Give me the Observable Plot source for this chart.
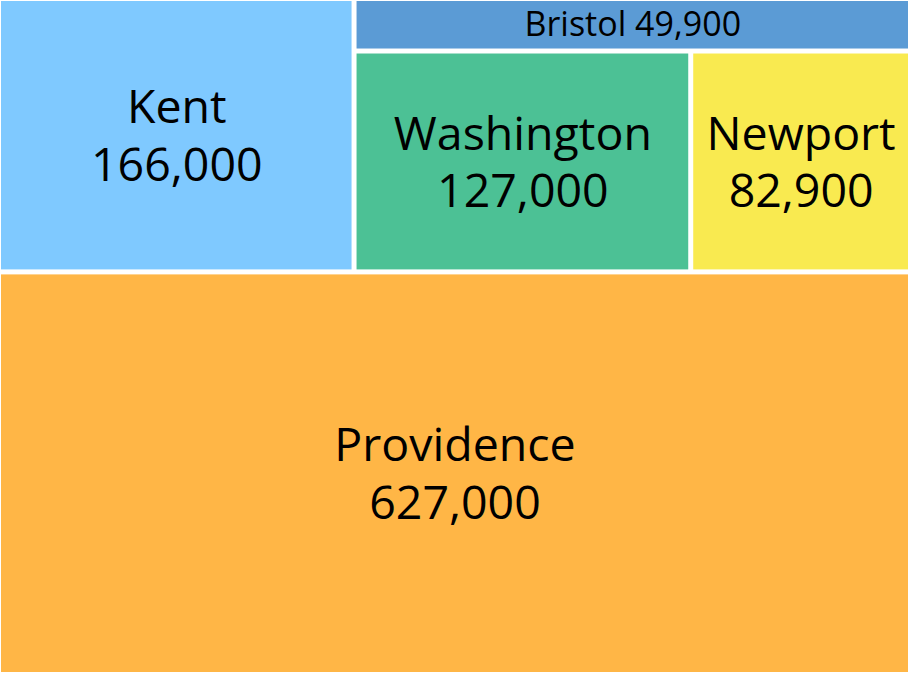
<!DOCTYPE html>
<html><head><meta charset="utf-8">
<script src="https://cdn.jsdelivr.net/npm/d3@7"></script>
<script src="https://cdn.jsdelivr.net/npm/@observablehq/plot@0.6"></script>
<style>body{margin:0;background:#fff}</style>
</head><body><div id="chart"></div>
<script>
// Data
const counties = ["Kent", "Bristol", "Washington", "Newport", "Providence"];
const populations = [166000, 49900, 127000, 82900, 627000];
const countyColors = ["#7FC9FF", "#5B9BD5", "#4CC195", "#F9EA50", "#FFB646"];
// Treemap nesting (group of each county)
const countyGroups = ["top", "right", "lower", "lower", "root"];
const groupIds = ["top", "right", "lower"];
const groupParents = ["root", "top", "right"];

const W = 909, H = 673;

// Build hierarchy rows in layout order
const rows = [{id: "root"}];
rows.push({id: "top", parent: "root"});
rows.push({id: "Providence", parent: "root", value: populations[4], color: countyColors[4]});
rows.push({id: "Kent", parent: "top", value: populations[0], color: countyColors[0]});
rows.push({id: "right", parent: "top"});
rows.push({id: "Bristol", parent: "right", value: populations[1], color: countyColors[1]});
rows.push({id: "lower", parent: "right"});
rows.push({id: "Washington", parent: "lower", value: populations[2], color: countyColors[2]});
rows.push({id: "Newport", parent: "lower", value: populations[3], color: countyColors[3]});

const root = d3.stratify().id(d => d.id).parentId(d => d.parent)(rows)
  .sum(d => d.value || 0);

d3.treemap()
  .size([W, H])
  .tile((node, x0, y0, x1, y1) => (node.depth % 2 === 0 ? d3.treemapSlice : d3.treemapDice)(node, x0, y0, x1, y1))
  .paddingInner(5)
  .paddingOuter(d => d.depth === 0 ? 1 : 0)(root);

const leaves = root.leaves().map(d => ({
  name: d.data.id, value: d.value, color: d.data.color,
  x0: d.x0, x1: d.x1, y0: d.y0, y1: d.y1
}));
const fmt = d3.format(",");

const chart = Plot.plot({
  width: W, height: H, margin: 0,
  style: {background: "white"},
  x: {domain: [0, W], range: [0, W], axis: null},
  y: {domain: [0, H], range: [0, H], axis: null},
  marks: [
    Plot.rect(leaves, {x1: "x0", x2: "x1", y1: "y0", y2: "y1", fill: "color"}),
    Plot.text(leaves.filter(d => d.name !== "Bristol"), {
      x: d => (d.x0 + d.x1) / 2, y: d => (d.y0 + d.y1) / 2,
      text: d => d.name + "\n" + fmt(d.value),
      fontSize: 46.5, fontFamily: "Open Sans", lineHeight: 1.23, fill: "black", dy: -2
    }),
    Plot.text(leaves.filter(d => d.name === "Bristol"), {
      x: d => (d.x0 + d.x1) / 2, y: d => (d.y0 + d.y1) / 2,
      text: d => d.name + " " + fmt(d.value),
      fontSize: 34, fontFamily: "Open Sans", fill: "black"
    })
  ]
});
document.getElementById("chart").append(chart);
</script>
</body></html>
